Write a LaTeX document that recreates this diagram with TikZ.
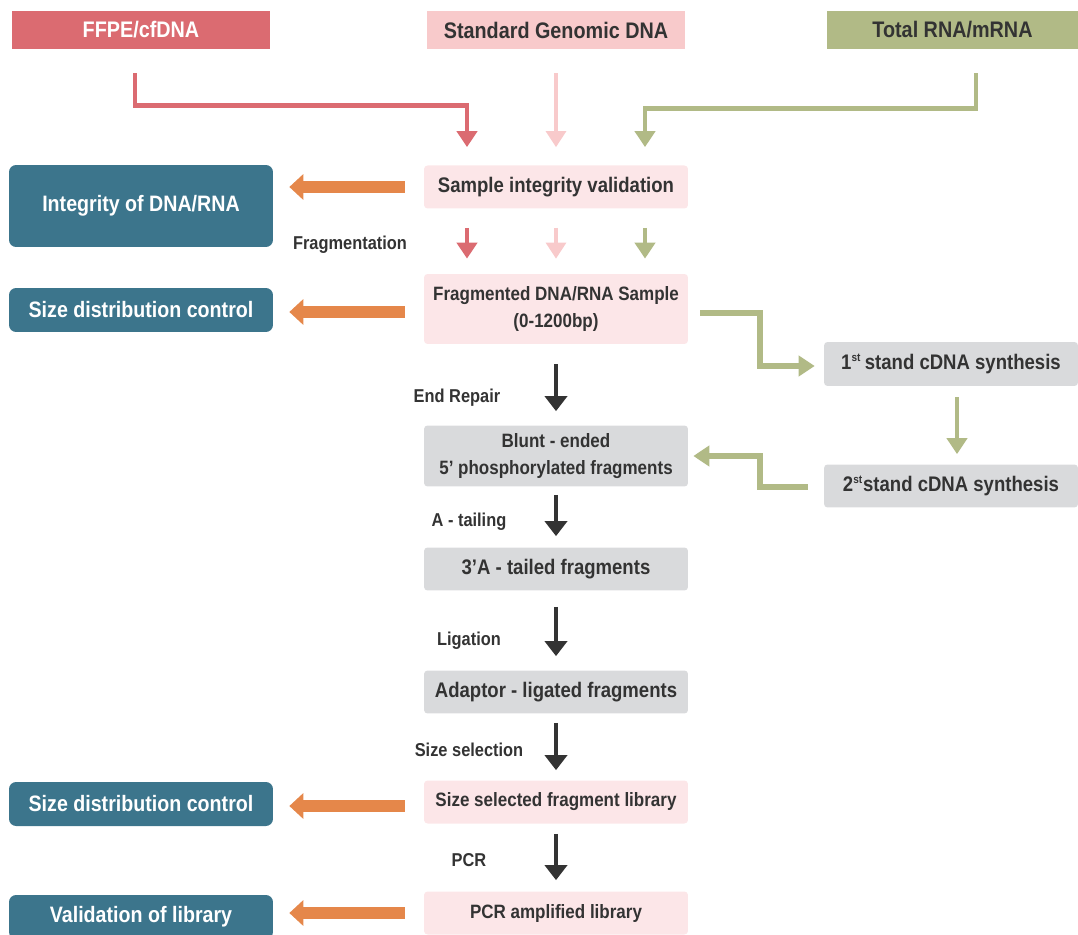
\documentclass[tikz,border=0pt]{standalone}
\usepackage{fontspec}
\setmainfont{Liberation Sans}[FakeStretch=0.88]
\usetikzlibrary{calc,arrows.meta}
\definecolor{ffpered}{HTML}{DB6B71}
\definecolor{gdnapink}{HTML}{F8CACB}
\definecolor{rnagreen}{HTML}{B1BA86}
\definecolor{boxpink}{HTML}{FCE6E8}
\definecolor{boxgray}{HTML}{D9DADC}
\definecolor{qcteal}{HTML}{3C758C}
\definecolor{qcorange}{HTML}{E5874A}
\definecolor{stepdark}{HTML}{333333}
\newcommand{\ordsup}[1]{\textsuperscript{\fontsize{6.5}{7}\selectfont #1}}
\tikzset{
    srcbox/.style={inner sep=0pt, minimum width=5.16cm, minimum height=0.76cm, font=\bfseries\fontsize{12.8}{14}\selectfont},
    flowbox/.style={inner sep=0pt, minimum width=5.28cm, rounded corners=2pt, text=stepdark, align=center, font=\bfseries\fontsize{12}{14}\selectfont},
    qcbox/.style={fill=qcteal, text=white, inner sep=0pt, minimum width=5.28cm, rounded corners=4pt, font=\bfseries\fontsize{12.7}{14}\selectfont},
    steplabel/.style={text=stepdark, font=\bfseries\fontsize{10.6}{12}\selectfont},
    darkarrow/.style={draw=stepdark, line width=2.8pt, -{Triangle[length=0.3cm, width=0.44cm]}},
    qcarrow/.style={draw=qcorange, line width=6.5pt, -{Triangle[length=0.28cm, width=0.5cm]}},
    srcarrow/.style={line width=2.8pt, -{Triangle[length=0.32cm, width=0.4cm]}},
}

\begin{document}
\begin{tikzpicture}[x=0.02cm, y=-0.02cm]
    \useasboundingbox (0,0) rectangle (1078,935);

    % sources
    \node[srcbox, fill=ffpered, text=white] (ffpe) at (141,30) {FFPE/cfDNA};
    \node[srcbox, fill=gdnapink, text=stepdark] (gdna) at (556,30) {Standard Genomic DNA};
    \node[srcbox, fill=rnagreen, text=stepdark, minimum width=5.02cm] (rna) at (952.5,30) {Total RNA/mRNA};

    % main column
    \node[flowbox, fill=boxpink, minimum height=0.86cm] (sample) at (556,187) {Sample integrity validation};
    \node[flowbox, fill=boxpink, minimum height=1.4cm, font=\bfseries\fontsize{11}{15}\selectfont] (frag) at (556,309) {Fragmented DNA/RNA Sample\\(0-1200bp)};
    \node[flowbox, fill=boxgray, minimum height=1.22cm, font=\bfseries\fontsize{11}{15}\selectfont] (blunt) at (556,456) {Blunt - ended\\5' phosphorylated fragments};
    \node[flowbox, fill=boxgray, minimum height=0.86cm] (tailed) at (556,569) {3'A - tailed fragments};
    \node[flowbox, fill=boxgray, minimum height=0.86cm] (adaptor) at (556,692) {Adaptor - ligated fragments};
    \node[flowbox, fill=boxpink, minimum height=0.86cm, font=\bfseries\fontsize{11}{14}\selectfont] (sizesel) at (556,802) {Size selected fragment library};
    \node[flowbox, fill=boxpink, minimum height=0.86cm, font=\bfseries\fontsize{11}{14}\selectfont] (pcr) at (556,913) {PCR amplified library};

    % RNA branch
    \node[flowbox, fill=boxgray, minimum width=5.08cm, minimum height=0.88cm] (first) at (951,364) {1\ordsup{st}\,stand cDNA synthesis};
    \node[flowbox, fill=boxgray, minimum width=5.08cm, minimum height=0.86cm] (second) at (951,486) {2\ordsup{st}stand cDNA synthesis};

    % quality control
    \node[qcbox, minimum height=1.64cm] (integ) at (141,206) {Integrity of DNA/RNA};
    \node[qcbox, minimum height=0.88cm] (sizeqc) at (141,310) {Size distribution control};
    \node[qcbox, minimum height=0.88cm] (sizeqcb) at (141,804) {Size distribution control};
    \node[qcbox, minimum height=0.88cm] (libqc) at (141,917) {Validation of library};

    % step labels
    \node[steplabel] (fraglab) at (350,245) {Fragmentation};
    \node[steplabel] (replab) at (457,398) {End Repair};
    \node[steplabel] (tailab) at (469,522) {A - tailing};
    \node[steplabel] (liglab) at (469,641) {Ligation};
    \node[steplabel] (sellab) at (469,750) {Size selection};
    \node[steplabel] (pcrlab) at (469,860) {PCR};

    % source arrows
    \draw[srcarrow, draw=ffpered] ($(ffpe.south)+(-6,24)$) -- ++(0,32) -| ($(sample.north)+(-89,-18)$);
    \draw[srcarrow, draw=gdnapink, line width=1.8pt] ($(gdna.south)+(0,24)$) -- ($(sample.north)+(0,-18)$);
    \draw[srcarrow, draw=rnagreen] ($(rna.south)+(23.5,24)$) -- ++(0,35) -| ($(sample.north)+(89,-18)$);

    \draw[srcarrow, draw=ffpered] ($(sample.south)+(-89,19)$) -- ($(frag.north)+(-89,-15)$);
    \draw[srcarrow, draw=gdnapink, line width=1.8pt] ($(sample.south)+(0,19)$) -- ($(frag.north)+(0,-15)$);
    \draw[srcarrow, draw=rnagreen] ($(sample.south)+(89,19)$) -- ($(frag.north)+(89,-15)$);

    % RNA branch arrows
    \draw[srcarrow, draw=rnagreen, line width=3.4pt] ($(frag.east)+(12,4)$) -- ++(60,0) |- ($(first.west)+(-9,2)$);
    \draw[srcarrow, draw=rnagreen] ($(first.south)+(6,11)$) -- ($(second.north)+(6,-10)$);
    \draw[srcarrow, draw=rnagreen, line width=3.4pt] ($(second.west)+(-16,1)$) -- ++(-48,0) |- ($(blunt.east)+(5,0)$);

    % main steps
    \draw[darkarrow] ($(frag.south)+(0,20)$) -- ($(blunt.north)+(0,-14)$);
    \draw[darkarrow] ($(blunt.south)+(0,8)$) -- ($(tailed.north)+(0,-11)$);
    \draw[darkarrow] ($(tailed.south)+(0,16)$) -- ($(adaptor.north)+(0,-14)$);
    \draw[darkarrow] ($(adaptor.south)+(0,9)$) -- ($(sizesel.north)+(0,-10)$);
    \draw[darkarrow] ($(sizesel.south)+(0,10)$) -- ($(pcr.north)+(0,-11)$);

    % quality control arrows
    \draw[qcarrow] ($(sample.west)+(-19,0)$) -- ($(integ.east |- sample.west)+(16,0)$);
    \draw[qcarrow] ($(frag.west)+(-19,3)$) -- ($(sizeqc.east |- frag.west)+(16,3)$);
    \draw[qcarrow] ($(sizesel.west)+(-19,4)$) -- ($(sizeqcb.east |- sizesel.west)+(16,4)$);
    \draw[qcarrow] ($(pcr.west)+(-19,0)$) -- ($(libqc.east |- pcr.west)+(16,0)$);
\end{tikzpicture}
\end{document}
